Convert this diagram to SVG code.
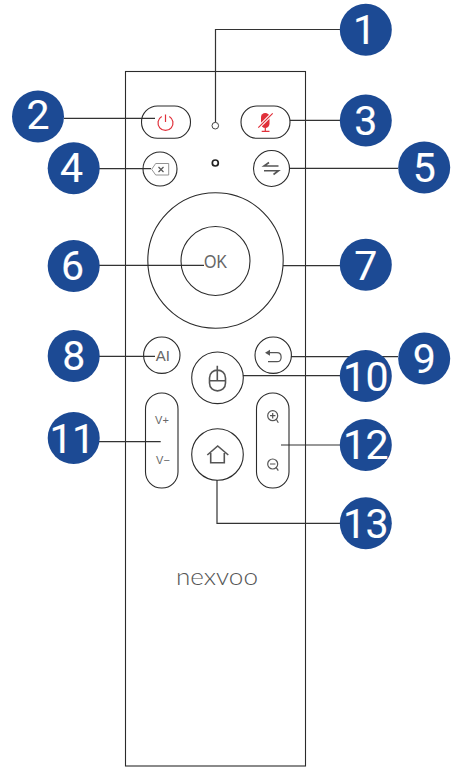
<svg xmlns="http://www.w3.org/2000/svg" width="474" height="777" viewBox="0 0 474 777">
<style>
.o{fill:none;stroke:#2b2b2b;stroke-width:1.1}
.c{fill:none;stroke:#333;stroke-width:1.2}
.i{fill:none;stroke:#555;stroke-width:1.2}
.m{fill:none;stroke:#555;stroke-width:1.6}
.r{fill:none;stroke:#e0303a;stroke-width:1.2}
.b{fill:#1c4a94}
.n{font:41px Roboto,"Liberation Sans",Arial,sans-serif;fill:#fff;stroke:#fff;stroke-width:.15;text-anchor:middle}
.t{font-family:"Liberation Sans",Arial,sans-serif;fill:#666;text-anchor:middle}
</style>
<rect width="474" height="777" fill="#fff"/>
<g id="remote"><rect class="o" x="125.500" y="71.500" width="180" height="694.500"/></g>
<g id="connectors">
<path class="c" d="M340 29.500H215.500V122.500M64 118.300H155M290 120.300H340M99 168.700H151M289 168.300H398M99 265.300H204M283 265.700H340M99 356.300H155M291 356.700H398M243 375.700H340M99 441.700H160.700M281 445H340M217 480V523.300H340"/>
</g>
<g id="button-power"><rect class="o" x="141.500" y="106" width="49" height="32.300" rx="16"/><path class="r" d="M161.700 116.500A7.500 7.500 0 1 0 169.300 116.500M165.500 114.500V122"/></g>
<g id="led-1"><circle cx="215.300" cy="125.700" r="3.300" fill="#fff" stroke="#444" stroke-width="1"/></g>
<g id="button-mic"><rect class="o" x="241" y="106" width="49" height="32.300" rx="16"/><rect x="261" y="113" width="8.500" height="15" rx="4.200" fill="#e0303a"/><path d="M258.300 127.700L272.700 113.300" fill="none" stroke="#fff" stroke-width="3.200"/><path class="r" d="M258.300 127.700L272.700 113.300M265.300 128V131M261.700 131.300H269.500"/></g>
<g id="led-2"><circle cx="215.300" cy="163" r="3" fill="none" stroke="#222" stroke-width="1.700"/></g>
<g id="button-delete"><circle class="o" cx="160" cy="169" r="17"/><path fill="none" stroke="#888" stroke-width=".9" d="M151.700 169.300L155.700 163.500H168.700V175H155.700z"/><path class="i" d="M158.500 167L163.500 172M163.500 167L158.500 172"/></g>
<g id="button-input"><circle class="o" cx="271.500" cy="168.500" r="18"/><path class="m" d="M278.500 166H264L269 162.500M264 170.700H278.500L273.500 174.500"/></g>
<g id="button-ring"><circle class="o" cx="215.500" cy="260.500" r="67.700"/></g>
<g id="button-ok"><circle class="o" cx="215.500" cy="261" r="34.500"/><text class="t" x="215.500" y="268" font-size="19" textLength="23" lengthAdjust="spacingAndGlyphs">OK</text></g>
<g id="button-ai"><circle class="o" cx="161.800" cy="355.200" r="18.200"/><text class="t" x="162.800" y="361" font-size="15">AI</text></g>
<g id="button-back"><circle class="o" cx="273.200" cy="355.200" r="18.200"/><path class="i" d="M268 352.700H277C282.500 352.700 282.500 361.700 277 361.700H268"/><path fill="#555" d="M265 352.700L270 349.700V355.700z"/></g>
<g id="button-mouse"><circle class="o" cx="217.500" cy="377.800" r="25.800"/><path class="m" d="M209.500 378C209.500 367.500 225.500 367.500 225.500 378V383C225.500 393.500 209.500 393.500 209.500 383zM209.500 380.700H225.500M217.300 365.700V380.700"/></g>
<g id="button-volume"><rect class="o" x="145.500" y="393" width="32.500" height="95" rx="16"/><text class="t" x="162" y="424" font-size="11">V+</text><text class="t" x="163" y="464" font-size="11">V−</text></g>
<g id="button-zoom"><rect class="o" x="256.500" y="393" width="32.500" height="95" rx="16"/><circle class="i" cx="272.700" cy="415.700" r="5"/><path class="i" d="M276.300 419.300L278.300 422.700M270 415.700H275.400M272.700 413V418.400"/><circle class="i" cx="272.700" cy="464" r="5"/><path class="i" d="M276.300 467.600L278.300 470.700M270 464H275.400"/></g>
<g id="button-home"><circle class="o" cx="217.500" cy="454.500" r="25.800"/><path class="m" d="M207.300 455L217.700 446L228.300 455M210.700 453V462.700H224.300V453"/></g>
<g id="logo"><text x="176" y="585" font-family="Lato,'Noto Sans',sans-serif" font-weight="300" font-size="24" fill="#555" textLength="82" lengthAdjust="spacingAndGlyphs">nexvoo</text></g>
<g id="badge-1"><circle class="b" cx="365.800" cy="29.800" r="26"/><text class="n" x="364.500" y="43.800">1</text></g>
<g id="badge-2"><circle class="b" cx="38" cy="116.500" r="26"/><text class="n" x="38" y="128.500">2</text></g>
<g id="badge-3"><circle class="b" cx="365.800" cy="120.500" r="26"/><text class="n" x="365.800" y="134.500">3</text></g>
<g id="badge-4"><circle class="b" cx="73.700" cy="168.200" r="26"/><text class="n" x="71.500" y="182">4</text></g>
<g id="badge-5"><circle class="b" cx="424.200" cy="167.500" r="26"/><text class="n" x="424.200" y="181.500">5</text></g>
<g id="badge-6"><circle class="b" cx="73.700" cy="266" r="26"/><text class="n" x="72.500" y="280">6</text></g>
<g id="badge-7"><circle class="b" cx="365.800" cy="264.800" r="26"/><text class="n" x="365.800" y="280">7</text></g>
<g id="badge-8"><circle class="b" cx="73.700" cy="356" r="26"/><text class="n" x="73.700" y="370">8</text></g>
<g id="badge-9"><circle class="b" cx="424.200" cy="358.500" r="26"/><text class="n" x="424.200" y="373">9</text></g>
<g id="badge-10"><circle class="b" cx="365.800" cy="376" r="26"/><text class="n" x="365.500" y="391" letter-spacing="-.5">10</text></g>
<g id="badge-11"><circle class="b" cx="73.700" cy="438" r="26"/><text class="n" x="72" y="453" letter-spacing="-.5">11</text></g>
<g id="badge-12"><circle class="b" cx="365.800" cy="445" r="26"/><text class="n" x="365.500" y="458.500" letter-spacing="-.5">12</text></g>
<g id="badge-13"><circle class="b" cx="365.800" cy="523.300" r="26"/><text class="n" x="365.500" y="538" letter-spacing="-.5">13</text></g>
</svg>
